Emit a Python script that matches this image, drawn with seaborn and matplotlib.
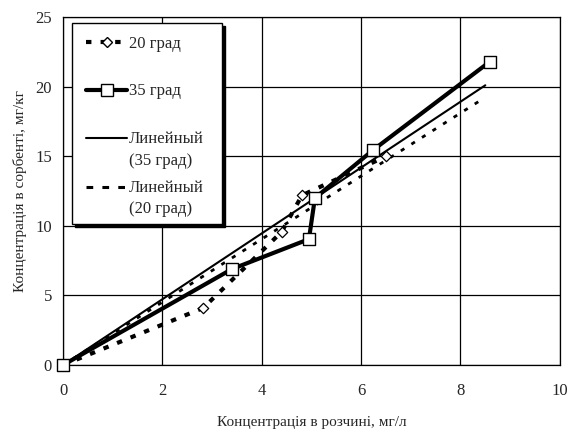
import numpy as np
import pandas as pd
import matplotlib
matplotlib.use("Agg")
import matplotlib.pyplot as plt
import seaborn as sns
from matplotlib.lines import Line2D
from matplotlib.offsetbox import DrawingArea

# Data
x20 = [0.0, 2.82, 4.40, 4.81, 6.50]
y20 = [0.0, 4.10, 9.57, 12.20, 15.00]
x35 = [0.0, 3.40, 4.95, 5.07, 6.24, 8.59]
y35 = [0.0, 6.90, 9.05, 12.00, 15.45, 21.80]
trend_x_end = 8.5
labels = ["20 град", "35 град", "Линейный\n(35 град)", "Линейный\n(20 град)"]
xlabel = "Концентрація в розчині, мг/л"
ylabel = "Концентрація в сорбенті, мг/кг"
xticks = [0, 2, 4, 6, 8, 10]
yticks = [0, 5, 10, 15, 20, 25]

sns.set_style("white")
plt.rcParams["font.family"] = ["Liberation Serif", "DejaVu Serif"]

# linear trend lines through origin
def slope0(x, y):
    x = np.asarray(x); y = np.asarray(y)
    return (x * y).sum() / (x * x).sum()

k35 = slope0(x35, y35)
k20 = slope0(x20, y20)
tx = np.array([0.0, trend_x_end])
df20 = pd.DataFrame({"x": x20, "y": y20})
df35 = pd.DataFrame({"x": x35, "y": y35})
dft35 = pd.DataFrame({"x": tx, "y": k35 * tx})
dft20 = pd.DataFrame({"x": tx, "y": k20 * tx})

fig = plt.figure(figsize=(5.73, 4.30), dpi=100)
ax = fig.add_axes([0.110, 0.151, 0.867, 0.809])

sns.lineplot(data=dft35, x="x", y="y", ax=ax, color="black", lw=1.5, sort=False, zorder=3)
sns.lineplot(data=dft20, x="x", y="y", ax=ax, color="black", lw=2.0, sort=False, zorder=3)
ax.lines[-1].set_dashes([1.5, 3])
sns.lineplot(data=df20, x="x", y="y", ax=ax, color="black", lw=3.0, sort=False, zorder=4)
ax.lines[-1].set_dashes([1.3, 2.2])
ax.lines[-1].set_dash_capstyle("butt")
sns.scatterplot(data=df20, x="x", y="y", ax=ax, marker="D", s=28, facecolor="white",
                edgecolor="black", linewidth=0.9, zorder=5, clip_on=False)
sns.lineplot(data=df35, x="x", y="y", ax=ax, color="black", lw=3.0, sort=False, zorder=4)
sns.scatterplot(data=df35, x="x", y="y", ax=ax, marker="s", s=80, facecolor="white",
                edgecolor="black", linewidth=1.0, zorder=6, clip_on=False)

ax.set_xlim(0, 10)
ax.set_ylim(0, 25)
ax.set_xticks(xticks)
ax.set_yticks(yticks)
ax.grid(True, color="black", lw=0.9)
for s in ax.spines.values():
    s.set_color("black")
    s.set_linewidth(0.9)
ax.tick_params(axis="both", direction="out", length=4, width=0.9, color="black",
               labelsize=12)
ax.tick_params(axis="x", pad=9)
ax.tick_params(axis="y", pad=4)
ax.set_xlabel(xlabel, fontsize=11, labelpad=12)
ax.set_ylabel(ylabel, fontsize=11, labelpad=6)

h20 = Line2D([], [], color="black", lw=3, dashes=[1.3, 2.2], marker="D", markersize=5,
             markerfacecolor="white", markeredgecolor="black")
h35 = Line2D([], [], color="black", lw=3, marker="s", markersize=8,
             markerfacecolor="white", markeredgecolor="black")
hl35 = Line2D([], [], color="black", lw=1.5)
hl20 = Line2D([], [], color="black", lw=2.2, dashes=[2.2, 3])
leg = ax.legend([h20, h35, hl35, hl20], labels, loc="upper left",
                bbox_to_anchor=(0.018, 0.983), borderaxespad=0, fontsize=12,
                frameon=True, fancybox=False,
                shadow={"color": "black", "alpha": 1, "ox": 2.2, "oy": -2.2},
                handlelength=2.45, handletextpad=0.12, labelspacing=0.3,
                borderpad=0.4, framealpha=1)
leg.set_zorder(10)
leg.get_frame().set_edgecolor("black")
leg.get_frame().set_linewidth(1.0)
for t in leg.get_texts():
    t.set_linespacing(1.45)
# handles of two-line entries aligned with the first text line
for hh in leg.legend_handles[2:]:
    yd = np.asarray(hh.get_ydata(), dtype=float)
    hh.set_ydata(yd + 8.5)
# spacing adjustments inside the legend box
col = leg._legend_handle_box.get_children()[0]
rows = list(col.get_children())
for r in rows:
    rk = r.get_children()
    rk.insert(0, DrawingArea(4.2, 0))
    rk.append(DrawingArea(6.5, 0))
kids = col.get_children()
kids.insert(3, DrawingArea(1, 0.7))
kids.insert(2, DrawingArea(1, 15.7))
kids.insert(1, DrawingArea(1, 15.7))
kids.insert(0, DrawingArea(1, 0.6))

fig.savefig("out.png", dpi=100)
